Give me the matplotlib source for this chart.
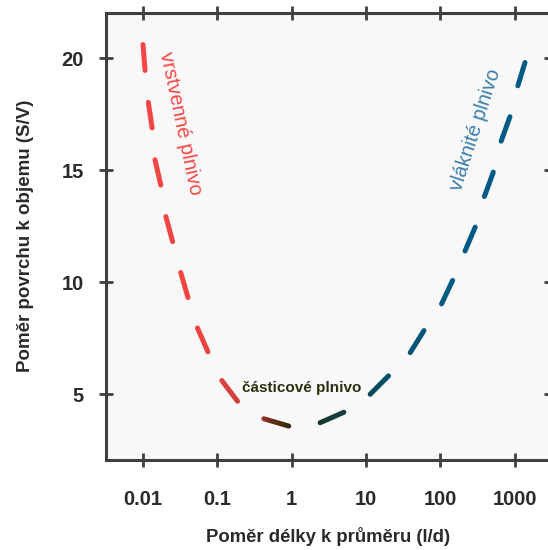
import numpy as np
import matplotlib.pyplot as plt
from matplotlib.colors import LinearSegmentedColormap
from matplotlib.transforms import Bbox, TransformedBbox

plt.rcParams['font.family'] = ['Liberation Sans', 'DejaVu Sans']
plt.rcParams['lines.scale_dashes'] = False

# pomer delky k prumeru (l/d) a pomer povrchu k objemu (S/V)
ratio_ld = [0.01, 0.0108, 0.0117, 0.0135, 0.0145, 0.018, 0.020, 0.026, 0.032,
            0.042, 0.054, 0.079, 0.115, 0.20, 0.39, 1.0, 2.2, 5.5, 10.5, 22,
            37, 66, 100, 148, 204, 295, 377, 513, 630, 870, 1070, 1380]
surface_volume = [20.6, 19.2, 18.1, 16.7, 15.45, 14.1, 13.0, 11.6, 10.45,
                  9.1, 7.95, 6.7, 5.6, 4.55, 3.93, 3.53, 3.66, 4.24, 4.87, 5.94,
                  6.7, 8.04, 8.9, 10.1, 11.2, 12.45, 13.66, 14.87, 16.1, 17.4, 18.6, 19.8]

x_ticks = [0.01, 0.1, 1, 10, 100, 1000]
x_tick_labels = ['0.01', '0.1', '1', '10', '100', '1000']
y_ticks = [5, 10, 15, 20]

# barevny prechod podle log10(l/d)
grad_pos = [-2.0, -1.2, -0.8, -0.45, -0.3, 0.0, 0.3, 0.8, 1.3, 2.0, 3.2]
grad_col = ['#f54545', '#ec4442', '#d8403b', '#b83a30', '#6e2a18', '#2a2a05',
            '#1c3628', '#12404a', '#06506a', '#005a85', '#005a86']
lo, hi = grad_pos[0], grad_pos[-1]
cmap = LinearSegmentedColormap.from_list(
    'fill', [((p - lo) / (hi - lo), c) for p, c in zip(grad_pos, grad_col)])

fig = plt.figure(figsize=(5.48, 5.5), dpi=100)
ax = fig.add_axes([106 / 548, 90.5 / 550, 445 / 548, 446.5 / 550])
ax.set_facecolor('#f8f8f8')
ax.set_xscale('log')
ax.set_xlim(10 ** -2.498, 10 ** 3.49)
ax.set_ylim(2.076, 22.01)

# stejna carkovana cara kreslena po uzkych pruzich, kazdy pruh svou barvou
lw = 3.6
dash = (18.7, 23.0)
edges = np.logspace(-2.2, 3.4, 220)
for e0, e1 in zip(edges[:-1], edges[1:]):
    c = cmap((np.log10(np.sqrt(e0 * e1)) - lo) / (hi - lo))
    line, = ax.plot(ratio_ld, surface_volume, color=c, lw=lw,
                    dashes=dash, dash_capstyle='round', solid_capstyle='round')
    line.set_clip_box(TransformedBbox(Bbox([[e0, 0], [e1, 30]]), ax.transData))

ax.text(0.0324, 17.1, 'vrstvenné plnivo', color='#f54848', fontsize=14.5,
        rotation=-78, ha='center', va='center', rotation_mode='anchor')
ax.text(302, 16.8, 'vláknité plnivo', color='#3c7faa', fontsize=14.5,
        rotation=72, ha='center', va='center', rotation_mode='anchor')
ax.text(1.38, 5.27, 'částicové plnivo', color='#2b3010', fontsize=11,
        fontweight='bold', ha='center', va='center')

ax.set_xticks(x_ticks)
ax.set_xticklabels(x_tick_labels)
ax.minorticks_off()
ax.set_yticks(y_ticks)
ax.tick_params(direction='inout', length=10, width=2, color='#404040',
               top=True, right=True, labelsize=14.5, labelcolor='#2a2a2a')
ax.tick_params(axis='x', pad=17)
ax.tick_params(axis='y', pad=11)
for lab in ax.get_xticklabels() + ax.get_yticklabels():
    lab.set_fontweight('bold')
for s in ax.spines.values():
    s.set_color('#404040')
    s.set_linewidth(2.2)

ax.set_xlabel('Poměr délky k průměru (l/d)', fontsize=13.3, fontweight='bold',
              color='#2a2a2a', labelpad=13)
ax.set_ylabel('Poměr povrchu k objemu (S/V)', fontsize=13.5, fontweight='bold',
              color='#2a2a2a', labelpad=20)

fig.savefig('out.png', dpi=100)
